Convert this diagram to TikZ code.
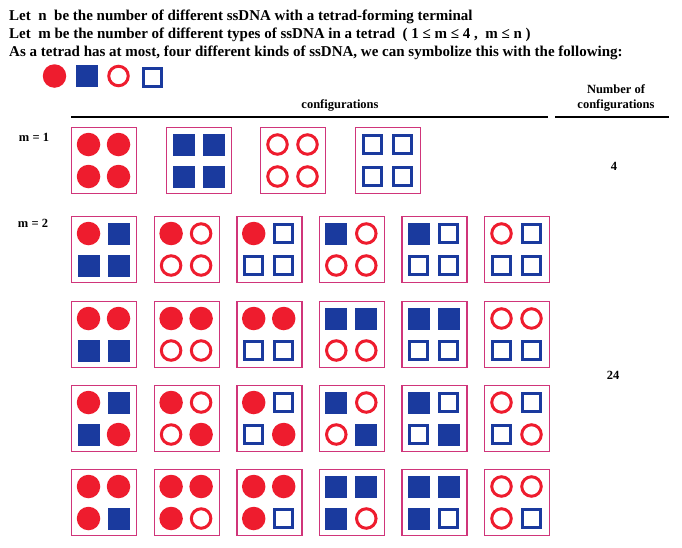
\documentclass[tikz,border=0pt]{standalone}
\usepackage{fontspec}
\setmainfont{Liberation Serif}
\definecolor{tred}{HTML}{EE1C2E}
\definecolor{tblue}{HTML}{1A3A9E}
\definecolor{tpink}{HTML}{D0357A}
\newcommand\tsym[3]{%
  \ifx#1A\node[sA] at (#2,#3) {};\fi
  \ifx#1B\node[sB] at (#2,#3) {};\fi
  \ifx#1C\node[sC] at (#2,#3) {};\fi
  \ifx#1D\node[sD] at (#2,#3) {};\fi}
% #1 name, #2 left x, #3 top y, #4..#7 symbols TL TR BL BR
\newcommand\tetbox[7]{%
  \node[tbox, anchor=north west] (#1) at (#2,#3) {};
  \tsym{#4}{#2+17.5}{#3+17.5}
  \tsym{#5}{#2+47.5}{#3+17.5}
  \tsym{#6}{#2+17.5}{#3+49.5}
  \tsym{#7}{#2+47.5}{#3+49.5}}
\begin{document}
\begin{tikzpicture}[x=1pt,y=-1pt,
  sA/.style={circle, fill=tred, minimum size=23.5pt, inner sep=0pt},
  sB/.style={rectangle, fill=tblue, minimum size=22pt, inner sep=0pt},
  sC/.style={circle, draw=tred, line width=3pt, minimum size=19.5pt, inner sep=0pt},
  sD/.style={rectangle, draw=tblue, line width=3pt, minimum size=18pt, inner sep=0pt},
  tbox/.style={rectangle, draw=tpink, line width=1.3pt, minimum width=65pt, minimum height=66pt, inner sep=0pt},
  toptext/.style={anchor=base west, inner sep=0pt, font=\bfseries\fontsize{15}{17}\selectfont},
  lab/.style={inner sep=0pt, font=\bfseries\fontsize{12.5}{15}\selectfont, align=center},
  rule/.style={line width=1.8pt, black}]
\useasboundingbox (0,0) rectangle (682,547);
\node[toptext] (t1) at (9,20) {Let\ \ n\ \ be the number of different ssDNA with a tetrad-forming terminal};
\node[toptext] (t2) at (9,38) {Let\ \ m be the number of different types of ssDNA in a tetrad\ \ ( 1 ≤ m ≤ 4 ,\ \ m ≤ n )};
\node[toptext] (t3) at (9,56) {As a tetrad has at most, four different kinds of ssDNA, we can symbolize this with the following:};
\node[sA] (k1) at (54.5,76) {};
\node[sB] (k2) at (86.5,76) {};
\node[sC] (k3) at (118.5,76) {};
\node[sD] (k4) at (152,77) {};
\node[lab] (hc) at (340,105) {configurations};
\node[lab] (hn) at (616,98) {Number of\\configurations};
\coordinate (l1a) at (71,117); \coordinate (l1b) at (548,117);
\coordinate (l2a) at (555,117); \coordinate (l2b) at (669,117);
\draw[rule] (l1a) -- (l1b);
\draw[rule] (l2a) -- (l2b);
\node[lab] (m1) at (34,137) {m = 1};
\node[lab] (m2) at (33,223) {m = 2};
\node[lab] (n4) at (614,166) {4};
\node[lab] (n24) at (613,375) {24};
% m = 1
\tetbox{a1}{71}{127}AAAA
\tetbox{a2}{166}{127}BBBB
\tetbox{a3}{260}{127}CCCC
\tetbox{a4}{355}{127}DDDD
% m = 2
\tetbox{b1}{71}{216}ABBB
\tetbox{b2}{153.6}{216}ACCC
\tetbox{b3}{236.2}{216}ADDD
\tetbox{b4}{318.8}{216}BCCC
\tetbox{b5}{401.4}{216}BDDD
\tetbox{b6}{484}{216}CDDD
\tetbox{c1}{71}{301}AABB
\tetbox{c2}{153.6}{301}AACC
\tetbox{c3}{236.2}{301}AADD
\tetbox{c4}{318.8}{301}BBCC
\tetbox{c5}{401.4}{301}BBDD
\tetbox{c6}{484}{301}CCDD
\tetbox{d1}{71}{385}ABBA
\tetbox{d2}{153.6}{385}ACCA
\tetbox{d3}{236.2}{385}ADDA
\tetbox{d4}{318.8}{385}BCCB
\tetbox{d5}{401.4}{385}BDDB
\tetbox{d6}{484}{385}CDDC
\tetbox{e1}{71}{469}AAAB
\tetbox{e2}{153.6}{469}AAAC
\tetbox{e3}{236.2}{469}AAAD
\tetbox{e4}{318.8}{469}BBBC
\tetbox{e5}{401.4}{469}BBBD
\tetbox{e6}{484}{469}CCCD
\end{tikzpicture}
\end{document}
